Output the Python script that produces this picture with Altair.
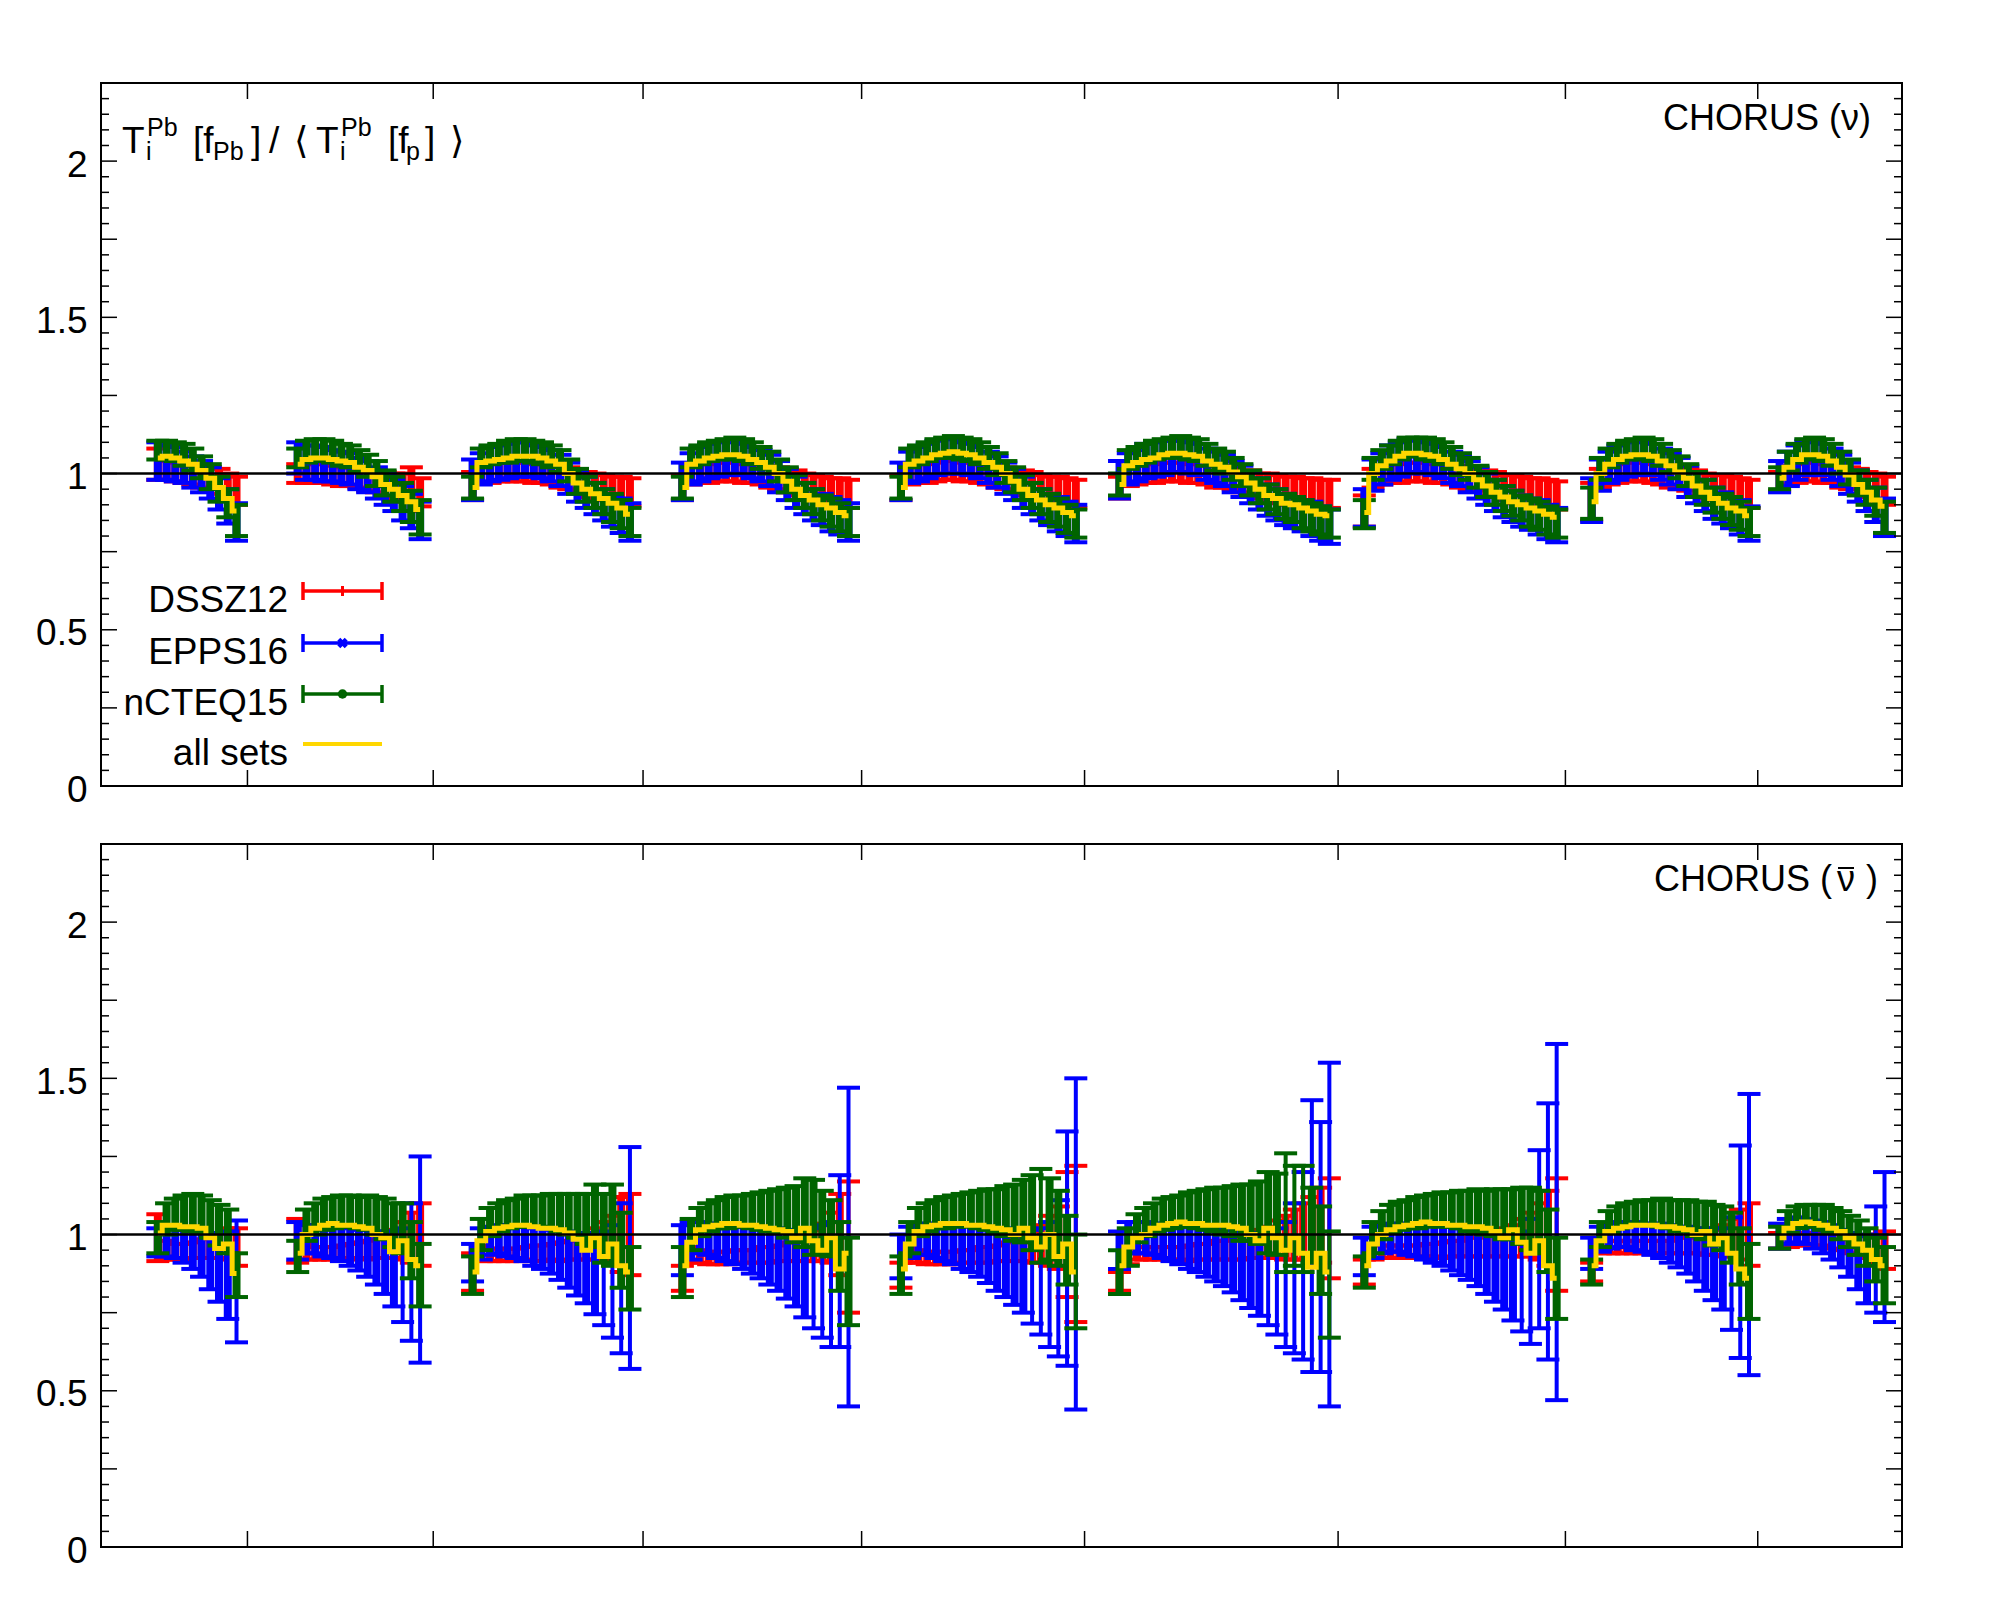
import altair as alt
import pandas as pd

W, H = 1801, 703
FONT = "Liberation Sans"

# ---------------- layout of the point index axis ----------------
GROUP_START = [13, 45, 85, 133, 183, 233, 289, 341, 384]   # first point of each bin group
STEP = 2
X_TICKS = [33.5, 76, 124, 174, 225, 283, 335, 379]
Y_LABELS = [0, 0.5, 1, 1.5, 2]
Y_MAJOR = [0, 0.25, 0.5, 0.75, 1, 1.25, 1.5, 1.75, 2, 2.25]
Y_MINOR = [round(0.05 * k, 2) for k in range(46) if k % 5]

COLORS = {"DSSZ12": "#ff0000", "EPPS16": "#0000ff", "nCTEQ15": "#006400"}
YELLOW = "#ffd700"

# ================= CHORUS (nu) =================
NU_ALL = [
    [1.05, 1.055, 1.05, 1.04, 1.03, 1.01, 0.985, 0.955, 0.92, 0.88],
    [1.03, 1.045, 1.05, 1.05, 1.045, 1.04, 1.035, 1.02, 1.01, 0.99, 0.965, 0.95, 0.93, 0.91, 0.885],
    [0.955, 1.035, 1.04, 1.045, 1.05, 1.055, 1.055, 1.055, 1.05, 1.04, 1.03, 1.0, 0.97, 0.95, 0.935, 0.92, 0.905, 0.89, 0.87],
    [0.955, 1.03, 1.04, 1.05, 1.055, 1.06, 1.06, 1.055, 1.045, 1.035, 1.02, 1.0, 0.975, 0.95, 0.93, 0.915, 0.9, 0.89, 0.875, 0.865],
    [0.955, 1.03, 1.04, 1.05, 1.06, 1.065, 1.07, 1.065, 1.06, 1.05, 1.035, 1.02, 1.0, 0.975, 0.95, 0.93, 0.915, 0.9, 0.89, 0.875, 0.865],
    [0.965, 1.025, 1.035, 1.045, 1.05, 1.06, 1.065, 1.065, 1.06, 1.055, 1.04, 1.03, 1.02, 1.005, 0.99, 0.97, 0.95, 0.93, 0.92, 0.905, 0.9, 0.89, 0.88, 0.87, 0.865],
    [0.875, 1.0, 1.025, 1.04, 1.055, 1.065, 1.065, 1.06, 1.055, 1.045, 1.03, 1.015, 1.0, 0.98, 0.96, 0.94, 0.925, 0.91, 0.9, 0.89, 0.88, 0.87, 0.86],
    [0.91, 1.0, 1.03, 1.045, 1.055, 1.06, 1.06, 1.055, 1.04, 1.025, 1.005, 0.985, 0.96, 0.94, 0.92, 0.905, 0.89, 0.88, 0.865],
    [0.985, 1.02, 1.045, 1.06, 1.06, 1.055, 1.04, 1.02, 0.995, 0.965, 0.94, 0.915, 0.895],
]
NU_NCTEQ = [
    [1.075, 1.075, 1.07, 1.06, 1.045, 1.02, 0.99, 0.95, 0.905, 0.85],
    [1.05, 1.07, 1.075, 1.075, 1.07, 1.06, 1.055, 1.04, 1.025, 1.0, 0.97, 0.95, 0.925, 0.895, 0.86],
    [0.955, 1.05, 1.06, 1.065, 1.07, 1.075, 1.075, 1.07, 1.065, 1.055, 1.04, 1.01, 0.975, 0.95, 0.93, 0.91, 0.89, 0.87, 0.845],
    [0.955, 1.05, 1.06, 1.07, 1.075, 1.08, 1.08, 1.075, 1.065, 1.05, 1.035, 1.01, 0.98, 0.955, 0.93, 0.91, 0.89, 0.875, 0.86, 0.845],
    [0.955, 1.05, 1.06, 1.07, 1.08, 1.085, 1.085, 1.08, 1.075, 1.065, 1.05, 1.03, 1.005, 0.98, 0.955, 0.93, 0.91, 0.89, 0.875, 0.855, 0.84],
    [0.965, 1.045, 1.055, 1.065, 1.075, 1.08, 1.085, 1.085, 1.08, 1.075, 1.06, 1.045, 1.035, 1.015, 0.995, 0.97, 0.945, 0.925, 0.91, 0.895, 0.885, 0.87, 0.86, 0.85, 0.84],
    [0.87, 1.015, 1.045, 1.06, 1.075, 1.085, 1.085, 1.08, 1.075, 1.065, 1.05, 1.03, 1.015, 0.99, 0.965, 0.94, 0.92, 0.905, 0.89, 0.875, 0.865, 0.85, 0.84],
    [0.905, 1.015, 1.05, 1.065, 1.075, 1.08, 1.08, 1.075, 1.06, 1.04, 1.02, 0.995, 0.965, 0.94, 0.915, 0.895, 0.88, 0.865, 0.845],
    [0.985, 1.04, 1.065, 1.08, 1.08, 1.075, 1.06, 1.035, 1.005, 0.97, 0.94, 0.91, 0.86],
]
NU_NCTEQ_ERR = [
    [0.03, 0.03, 0.03, 0.035, 0.035, 0.035, 0.04, 0.04, 0.045, 0.05],
    [0.03, 0.035, 0.035, 0.035, 0.035, 0.035, 0.035, 0.035, 0.035, 0.04, 0.04, 0.04, 0.045, 0.05, 0.055],
    [0.035, 0.03, 0.03, 0.03, 0.035, 0.035, 0.035, 0.035, 0.035, 0.035, 0.035, 0.035, 0.04, 0.04, 0.04, 0.04, 0.045, 0.045, 0.045],
    [0.035, 0.03, 0.03, 0.03, 0.03, 0.03, 0.035, 0.035, 0.035, 0.035, 0.035, 0.035, 0.04, 0.04, 0.04, 0.04, 0.04, 0.045, 0.045, 0.045],
    [0.035, 0.03, 0.03, 0.03, 0.03, 0.03, 0.035, 0.035, 0.035, 0.035, 0.035, 0.035, 0.035, 0.04, 0.04, 0.04, 0.04, 0.045, 0.045, 0.045, 0.045],
    [0.035, 0.03, 0.03, 0.03, 0.03, 0.03, 0.03, 0.035, 0.035, 0.035, 0.035, 0.035, 0.035, 0.035, 0.035, 0.04, 0.04, 0.04, 0.04, 0.04, 0.04, 0.045, 0.045, 0.045, 0.045],
    [0.045, 0.035, 0.03, 0.03, 0.03, 0.03, 0.03, 0.035, 0.035, 0.035, 0.035, 0.035, 0.035, 0.035, 0.04, 0.04, 0.04, 0.04, 0.04, 0.045, 0.045, 0.045, 0.045],
    [0.05, 0.035, 0.03, 0.03, 0.03, 0.03, 0.035, 0.035, 0.035, 0.035, 0.035, 0.035, 0.04, 0.04, 0.04, 0.04, 0.045, 0.045, 0.045],
    [0.035, 0.03, 0.03, 0.03, 0.035, 0.035, 0.035, 0.035, 0.04, 0.04, 0.04, 0.045, 0.05],
]
NU_EPPS = [
    [1.04, 1.035, 1.03, 1.02, 1.005, 0.99, 0.97, 0.935, 0.895, 0.845],
    [1.05, 1.035, 1.035, 1.03, 1.025, 1.02, 1.015, 1.0, 0.99, 0.97, 0.95, 0.93, 0.905, 0.88, 0.85],
    [0.98, 1.015, 1.03, 1.035, 1.04, 1.045, 1.045, 1.04, 1.035, 1.025, 1.01, 0.985, 0.96, 0.94, 0.92, 0.9, 0.88, 0.865, 0.845],
    [0.975, 1.015, 1.03, 1.04, 1.045, 1.05, 1.05, 1.045, 1.035, 1.025, 1.01, 0.99, 0.965, 0.94, 0.92, 0.9, 0.885, 0.87, 0.86, 0.845],
    [0.975, 1.02, 1.03, 1.04, 1.05, 1.055, 1.055, 1.05, 1.045, 1.035, 1.02, 1.005, 0.985, 0.965, 0.94, 0.92, 0.9, 0.885, 0.87, 0.855, 0.84],
    [0.98, 1.015, 1.025, 1.04, 1.045, 1.05, 1.055, 1.055, 1.05, 1.045, 1.03, 1.02, 1.01, 0.99, 0.975, 0.955, 0.935, 0.915, 0.9, 0.885, 0.875, 0.865, 0.855, 0.84, 0.83],
    [0.89, 0.995, 1.015, 1.035, 1.045, 1.055, 1.055, 1.05, 1.045, 1.035, 1.02, 1.01, 0.99, 0.97, 0.95, 0.93, 0.91, 0.895, 0.88, 0.87, 0.86, 0.845, 0.835],
    [0.915, 0.995, 1.02, 1.035, 1.045, 1.05, 1.05, 1.045, 1.03, 1.015, 1.0, 0.975, 0.955, 0.93, 0.905, 0.89, 0.875, 0.86, 0.84],
    [0.99, 1.015, 1.035, 1.05, 1.05, 1.045, 1.03, 1.01, 0.985, 0.96, 0.93, 0.9, 0.86],
]
NU_EPPS_ERR = [
    [0.06, 0.055, 0.055, 0.05, 0.05, 0.05, 0.05, 0.05, 0.055, 0.06],
    [0.05, 0.055, 0.055, 0.055, 0.05, 0.05, 0.05, 0.05, 0.05, 0.05, 0.05, 0.05, 0.055, 0.055, 0.06],
    [0.065, 0.05, 0.055, 0.055, 0.055, 0.055, 0.055, 0.05, 0.05, 0.05, 0.05, 0.05, 0.05, 0.05, 0.05, 0.05, 0.05, 0.055, 0.06],
    [0.06, 0.05, 0.055, 0.055, 0.055, 0.055, 0.05, 0.05, 0.05, 0.05, 0.05, 0.05, 0.05, 0.05, 0.05, 0.05, 0.05, 0.055, 0.055, 0.06],
    [0.06, 0.05, 0.055, 0.055, 0.055, 0.055, 0.055, 0.05, 0.05, 0.05, 0.05, 0.05, 0.05, 0.05, 0.05, 0.05, 0.05, 0.05, 0.055, 0.055, 0.06],
    [0.06, 0.05, 0.05, 0.055, 0.055, 0.055, 0.05, 0.05, 0.05, 0.05, 0.05, 0.05, 0.05, 0.05, 0.05, 0.05, 0.05, 0.05, 0.05, 0.05, 0.05, 0.05, 0.055, 0.055, 0.055],
    [0.06, 0.05, 0.05, 0.055, 0.055, 0.055, 0.05, 0.05, 0.05, 0.05, 0.05, 0.05, 0.05, 0.05, 0.05, 0.05, 0.05, 0.05, 0.05, 0.05, 0.055, 0.055, 0.055],
    [0.07, 0.05, 0.05, 0.055, 0.055, 0.055, 0.05, 0.05, 0.05, 0.05, 0.05, 0.05, 0.05, 0.05, 0.05, 0.05, 0.05, 0.055, 0.055],
    [0.05, 0.055, 0.055, 0.055, 0.05, 0.05, 0.05, 0.05, 0.05, 0.05, 0.05, 0.055, 0.06],
]
NU_DSSZ = [
    [1.03, 1.01, 1.005, 1.0, 0.995, 0.99, 0.985, 0.975, 0.96, 0.945],
    [1.0, 1.0, 1.0, 1.0, 0.995, 0.99, 0.99, 0.985, 0.98, 0.975, 0.965, 0.96, 0.955, 0.95, 0.94],
    [0.96, 1.0, 1.0, 1.005, 1.005, 1.005, 1.005, 1.0, 1.0, 0.995, 0.99, 0.985, 0.975, 0.965, 0.96, 0.955, 0.95, 0.945, 0.94],
    [0.955, 0.995, 1.0, 1.0, 1.005, 1.005, 1.005, 1.0, 1.0, 0.995, 0.99, 0.985, 0.975, 0.97, 0.96, 0.955, 0.95, 0.945, 0.94, 0.935],
    [0.955, 0.995, 1.0, 1.0, 1.005, 1.01, 1.01, 1.005, 1.005, 1.0, 0.995, 0.99, 0.985, 0.98, 0.97, 0.965, 0.955, 0.95, 0.945, 0.94, 0.935],
    [0.955, 0.99, 0.995, 1.0, 1.0, 1.005, 1.005, 1.005, 1.0, 1.0, 0.995, 0.99, 0.99, 0.985, 0.975, 0.97, 0.96, 0.955, 0.95, 0.945, 0.945, 0.94, 0.94, 0.935, 0.935],
    [0.88, 0.985, 0.995, 1.0, 1.0, 1.005, 1.005, 1.005, 1.0, 1.0, 0.995, 0.99, 0.985, 0.98, 0.97, 0.965, 0.955, 0.95, 0.945, 0.94, 0.94, 0.935, 0.93],
    [0.91, 0.985, 0.995, 1.0, 1.005, 1.005, 1.005, 1.0, 0.995, 0.99, 0.985, 0.98, 0.97, 0.96, 0.955, 0.95, 0.945, 0.94, 0.935],
    [0.975, 0.995, 1.0, 1.005, 1.005, 1.0, 1.0, 0.99, 0.985, 0.975, 0.965, 0.955, 0.945],
]
NU_DSSZ_ERR = [
    [0.05, 0.03, 0.03, 0.03, 0.03, 0.035, 0.035, 0.04, 0.04, 0.045],
    [0.03, 0.03, 0.03, 0.03, 0.03, 0.03, 0.03, 0.03, 0.035, 0.035, 0.04, 0.04, 0.045, 0.07, 0.045],
    [0.045, 0.03, 0.03, 0.03, 0.03, 0.03, 0.03, 0.03, 0.03, 0.03, 0.035, 0.035, 0.035, 0.04, 0.04, 0.04, 0.04, 0.045, 0.045],
    [0.04, 0.03, 0.03, 0.03, 0.03, 0.03, 0.03, 0.03, 0.03, 0.03, 0.035, 0.035, 0.035, 0.04, 0.04, 0.04, 0.04, 0.04, 0.045, 0.045],
    [0.04, 0.03, 0.03, 0.03, 0.03, 0.03, 0.03, 0.03, 0.03, 0.03, 0.03, 0.035, 0.035, 0.035, 0.04, 0.04, 0.04, 0.04, 0.045, 0.045, 0.045],
    [0.035, 0.03, 0.03, 0.03, 0.03, 0.03, 0.03, 0.03, 0.03, 0.03, 0.03, 0.035, 0.035, 0.035, 0.035, 0.04, 0.04, 0.045, 0.045, 0.045, 0.045, 0.045, 0.045, 0.045, 0.045],
    [0.05, 0.03, 0.03, 0.03, 0.03, 0.03, 0.03, 0.03, 0.03, 0.03, 0.03, 0.035, 0.035, 0.035, 0.04, 0.04, 0.04, 0.045, 0.045, 0.045, 0.045, 0.045, 0.045],
    [0.06, 0.03, 0.03, 0.03, 0.03, 0.03, 0.03, 0.03, 0.03, 0.035, 0.035, 0.035, 0.04, 0.04, 0.04, 0.045, 0.045, 0.045, 0.045],
    [0.03, 0.03, 0.03, 0.03, 0.03, 0.03, 0.03, 0.035, 0.035, 0.04, 0.04, 0.045, 0.045],
]

# ================= CHORUS (nubar) =================
NB_ALL = [
    [1.005, 1.03, 1.03, 1.025, 1.025, 1.02, 0.99, 0.955, 0.97, 0.875],
    [0.94, 1.0, 1.02, 1.03, 1.035, 1.03, 1.03, 1.025, 1.02, 1.0, 0.99, 0.945, 0.98, 0.92, 0.9],
    [0.88, 0.98, 1.01, 1.02, 1.025, 1.03, 1.03, 1.025, 1.02, 1.02, 1.015, 1.005, 0.985, 0.95, 0.99, 0.93, 0.97, 0.9, 0.88],
    [0.9, 0.975, 1.015, 1.025, 1.03, 1.035, 1.035, 1.03, 1.03, 1.025, 1.02, 1.015, 1.01, 0.99, 1.02, 0.98, 0.95, 0.99, 0.89, 0.94],
    [0.89, 0.97, 1.01, 1.025, 1.03, 1.035, 1.035, 1.035, 1.03, 1.03, 1.025, 1.02, 1.015, 1.0, 1.02, 0.99, 0.96, 1.0, 0.93, 0.97, 0.88],
    [0.9, 0.96, 0.99, 1.0, 1.02, 1.03, 1.035, 1.04, 1.035, 1.035, 1.03, 1.03, 1.03, 1.025, 1.02, 1.0, 0.98, 1.02, 0.99, 0.95, 0.99, 0.94, 0.895, 0.94, 0.88],
    [0.9, 0.97, 1.0, 1.015, 1.025, 1.03, 1.035, 1.04, 1.035, 1.035, 1.03, 1.03, 1.025, 1.025, 1.02, 1.01, 0.99, 1.015, 0.975, 0.94, 0.98, 0.9, 0.86],
    [0.9, 0.98, 1.01, 1.02, 1.025, 1.03, 1.03, 1.03, 1.025, 1.025, 1.02, 1.015, 1.0, 1.01, 0.97, 0.99, 0.94, 0.89, 0.86],
    [0.99, 1.02, 1.035, 1.04, 1.035, 1.03, 1.02, 1.01, 0.99, 0.97, 0.95, 0.92, 0.9],
]
NB_NCTEQ = [
    [0.99, 1.05, 1.065, 1.07, 1.07, 1.065, 1.05, 1.03, 1.01, 0.87],
    [0.93, 1.03, 1.05, 1.065, 1.07, 1.075, 1.075, 1.07, 1.07, 1.06, 1.05, 1.03, 1.02, 0.95, 0.87],
    [0.87, 1.0, 1.04, 1.055, 1.065, 1.07, 1.075, 1.075, 1.075, 1.075, 1.07, 1.065, 1.06, 1.05, 1.06, 1.02, 1.03, 0.95, 0.86],
    [0.88, 1.0, 1.04, 1.055, 1.065, 1.07, 1.075, 1.075, 1.075, 1.075, 1.075, 1.075, 1.07, 1.065, 1.07, 1.055, 1.04, 1.02, 0.93, 0.85],
    [0.87, 0.99, 1.04, 1.055, 1.065, 1.07, 1.075, 1.08, 1.08, 1.08, 1.08, 1.075, 1.075, 1.07, 1.075, 1.07, 1.06, 1.05, 1.02, 0.95, 0.85],
    [0.88, 0.96, 1.02, 1.04, 1.055, 1.065, 1.07, 1.075, 1.08, 1.08, 1.08, 1.08, 1.075, 1.075, 1.07, 1.07, 1.07, 1.07, 1.065, 1.07, 1.06, 1.05, 1.03, 0.95, 0.84],
    [0.88, 0.99, 1.03, 1.05, 1.06, 1.065, 1.07, 1.075, 1.08, 1.08, 1.08, 1.08, 1.075, 1.075, 1.07, 1.07, 1.065, 1.065, 1.06, 1.05, 1.04, 0.98, 0.86],
    [0.88, 1.0, 1.04, 1.055, 1.065, 1.07, 1.07, 1.07, 1.07, 1.065, 1.06, 1.06, 1.05, 1.045, 1.03, 1.02, 0.99, 0.93, 0.85],
    [0.99, 1.04, 1.055, 1.06, 1.06, 1.055, 1.045, 1.03, 1.01, 0.99, 0.96, 0.92, 0.87],
]
NB_NCTEQ_ERR = [
    [0.05, 0.05, 0.05, 0.055, 0.06, 0.06, 0.06, 0.065, 0.07, 0.07],
    [0.05, 0.05, 0.05, 0.05, 0.05, 0.05, 0.05, 0.05, 0.055, 0.06, 0.065, 0.07, 0.08, 0.09, 0.1],
    [0.06, 0.05, 0.045, 0.045, 0.045, 0.045, 0.05, 0.05, 0.05, 0.055, 0.06, 0.065, 0.07, 0.08, 0.1, 0.11, 0.13, 0.12, 0.1],
    [0.08, 0.05, 0.045, 0.045, 0.045, 0.05, 0.05, 0.05, 0.055, 0.06, 0.065, 0.07, 0.08, 0.09, 0.11, 0.12, 0.1, 0.09, 0.11, 0.14],
    [0.06, 0.05, 0.045, 0.045, 0.045, 0.05, 0.05, 0.05, 0.055, 0.06, 0.065, 0.07, 0.08, 0.09, 0.1, 0.12, 0.15, 0.13, 0.12, 0.11, 0.15],
    [0.07, 0.06, 0.045, 0.045, 0.045, 0.05, 0.05, 0.05, 0.055, 0.06, 0.065, 0.07, 0.075, 0.08, 0.09, 0.09, 0.1, 0.13, 0.13, 0.19, 0.16, 0.17, 0.12, 0.14, 0.17],
    [0.05, 0.05, 0.045, 0.045, 0.045, 0.045, 0.05, 0.05, 0.05, 0.055, 0.055, 0.06, 0.065, 0.07, 0.07, 0.075, 0.08, 0.08, 0.09, 0.1, 0.1, 0.1, 0.13],
    [0.04, 0.04, 0.035, 0.035, 0.035, 0.035, 0.04, 0.04, 0.045, 0.045, 0.05, 0.05, 0.055, 0.06, 0.065, 0.07, 0.08, 0.09, 0.12],
    [0.035, 0.035, 0.035, 0.035, 0.035, 0.04, 0.04, 0.045, 0.05, 0.055, 0.06, 0.07, 0.09],
]
NB_EPPS = [
    [0.975, 0.98, 0.975, 0.965, 0.95, 0.935, 0.915, 0.895, 0.87, 0.85],
    [0.98, 0.985, 0.985, 0.98, 0.975, 0.97, 0.96, 0.95, 0.94, 0.925, 0.91, 0.89, 0.87, 0.88, 0.92],
    [0.91, 0.97, 0.98, 0.985, 0.98, 0.975, 0.97, 0.96, 0.955, 0.945, 0.935, 0.92, 0.905, 0.89, 0.875, 0.86, 0.85, 0.86, 0.925],
    [0.95, 0.98, 0.99, 0.985, 0.98, 0.975, 0.97, 0.96, 0.95, 0.94, 0.93, 0.92, 0.905, 0.89, 0.875, 0.86, 0.85, 0.84, 0.915, 0.96],
    [0.93, 0.975, 0.985, 0.985, 0.98, 0.975, 0.97, 0.96, 0.955, 0.945, 0.935, 0.92, 0.91, 0.895, 0.88, 0.865, 0.85, 0.84, 0.86, 0.955, 0.97],
    [0.95, 0.99, 0.99, 0.99, 0.985, 0.98, 0.975, 0.97, 0.96, 0.955, 0.945, 0.935, 0.925, 0.915, 0.9, 0.885, 0.87, 0.86, 0.85, 0.84, 0.86, 0.9, 0.995, 0.96, 1.0],
    [0.93, 0.975, 0.985, 0.99, 0.99, 0.985, 0.98, 0.975, 0.97, 0.965, 0.955, 0.945, 0.935, 0.925, 0.91, 0.895, 0.88, 0.865, 0.85, 0.85, 0.985, 1.01, 1.04],
    [0.94, 0.985, 0.995, 1.0, 1.0, 0.995, 0.99, 0.985, 0.98, 0.97, 0.96, 0.95, 0.935, 0.92, 0.905, 0.89, 0.875, 0.945, 1.0],
    [0.995, 1.01, 1.015, 1.01, 1.0, 0.99, 0.975, 0.955, 0.935, 0.91, 0.89, 0.92, 0.96],
]
NB_EPPS_ERR = [
    [0.045, 0.05, 0.05, 0.055, 0.06, 0.07, 0.09, 0.11, 0.14, 0.195],
    [0.06, 0.045, 0.045, 0.05, 0.05, 0.055, 0.06, 0.065, 0.075, 0.085, 0.1, 0.12, 0.15, 0.22, 0.33],
    [0.06, 0.05, 0.045, 0.045, 0.05, 0.05, 0.055, 0.06, 0.065, 0.07, 0.08, 0.09, 0.1, 0.11, 0.13, 0.15, 0.18, 0.24, 0.355],
    [0.08, 0.06, 0.05, 0.05, 0.055, 0.06, 0.065, 0.07, 0.075, 0.08, 0.09, 0.1, 0.11, 0.12, 0.14, 0.16, 0.18, 0.2, 0.275, 0.51],
    [0.07, 0.05, 0.05, 0.05, 0.055, 0.06, 0.065, 0.07, 0.075, 0.08, 0.09, 0.1, 0.11, 0.12, 0.13, 0.15, 0.17, 0.2, 0.25, 0.375, 0.53],
    [0.06, 0.05, 0.05, 0.05, 0.05, 0.055, 0.06, 0.065, 0.07, 0.075, 0.08, 0.085, 0.09, 0.1, 0.11, 0.12, 0.13, 0.15, 0.17, 0.2, 0.24, 0.3, 0.435, 0.4, 0.55],
    [0.06, 0.05, 0.045, 0.045, 0.045, 0.05, 0.05, 0.055, 0.06, 0.065, 0.07, 0.075, 0.08, 0.09, 0.1, 0.11, 0.12, 0.14, 0.16, 0.2, 0.285, 0.41, 0.57],
    [0.05, 0.04, 0.04, 0.04, 0.04, 0.045, 0.045, 0.05, 0.055, 0.06, 0.065, 0.075, 0.085, 0.1, 0.115, 0.13, 0.18, 0.34, 0.45],
    [0.04, 0.04, 0.04, 0.04, 0.045, 0.05, 0.055, 0.06, 0.07, 0.085, 0.11, 0.17, 0.24],
]
NB_DSSZ = [
    [0.99, 0.95, 0.945, 0.945, 0.95, 0.955, 0.96, 0.965, 0.97, 0.96],
    [0.98, 0.945, 0.94, 0.94, 0.94, 0.945, 0.945, 0.95, 0.95, 0.955, 0.96, 0.97, 0.98, 0.99, 1.0],
    [0.88, 0.94, 0.935, 0.935, 0.935, 0.935, 0.94, 0.94, 0.94, 0.945, 0.945, 0.95, 0.955, 0.96, 0.97, 0.98, 0.99, 1.0, 1.0],
    [0.86, 0.935, 0.93, 0.925, 0.925, 0.925, 0.93, 0.93, 0.93, 0.935, 0.935, 0.94, 0.945, 0.95, 0.955, 0.965, 0.975, 0.99, 1.0, 0.96],
    [0.87, 0.935, 0.93, 0.925, 0.925, 0.925, 0.925, 0.93, 0.93, 0.935, 0.935, 0.94, 0.945, 0.95, 0.955, 0.96, 0.97, 0.98, 0.99, 1.0, 0.97],
    [0.85, 0.93, 0.94, 0.94, 0.94, 0.94, 0.94, 0.94, 0.94, 0.945, 0.945, 0.95, 0.95, 0.955, 0.96, 0.965, 0.97, 0.975, 0.985, 0.99, 1.0, 1.01, 1.02, 1.03, 1.02],
    [0.88, 0.945, 0.945, 0.945, 0.945, 0.945, 0.945, 0.95, 0.95, 0.95, 0.955, 0.955, 0.96, 0.96, 0.965, 0.97, 0.975, 0.98, 0.99, 1.0, 1.01, 1.02, 1.0],
    [0.88, 0.96, 0.96, 0.96, 0.96, 0.96, 0.96, 0.96, 0.96, 0.96, 0.965, 0.965, 0.97, 0.97, 0.975, 0.98, 0.99, 1.0, 1.0],
    [0.98, 0.98, 0.985, 0.985, 0.985, 0.985, 0.98, 0.975, 0.97, 0.965, 0.96, 0.955, 0.95],
]
NB_DSSZ_ERR = [
    [0.075, 0.03, 0.025, 0.025, 0.025, 0.03, 0.035, 0.04, 0.05, 0.06],
    [0.07, 0.025, 0.02, 0.02, 0.02, 0.02, 0.025, 0.025, 0.03, 0.03, 0.035, 0.045, 0.06, 0.08, 0.1],
    [0.06, 0.025, 0.02, 0.02, 0.02, 0.02, 0.02, 0.025, 0.025, 0.025, 0.03, 0.03, 0.035, 0.04, 0.05, 0.06, 0.07, 0.12, 0.13],
    [0.04, 0.025, 0.02, 0.02, 0.02, 0.02, 0.02, 0.02, 0.02, 0.025, 0.025, 0.025, 0.03, 0.035, 0.04, 0.05, 0.06, 0.08, 0.13, 0.21],
    [0.04, 0.025, 0.02, 0.02, 0.02, 0.02, 0.02, 0.02, 0.02, 0.025, 0.025, 0.025, 0.03, 0.035, 0.04, 0.05, 0.06, 0.08, 0.1, 0.2, 0.25],
    [0.03, 0.025, 0.02, 0.02, 0.02, 0.02, 0.02, 0.02, 0.025, 0.025, 0.025, 0.03, 0.03, 0.035, 0.04, 0.04, 0.045, 0.05, 0.06, 0.07, 0.08, 0.09, 0.1, 0.12, 0.16],
    [0.04, 0.025, 0.02, 0.02, 0.02, 0.02, 0.02, 0.02, 0.02, 0.025, 0.025, 0.025, 0.03, 0.03, 0.035, 0.04, 0.045, 0.05, 0.06, 0.07, 0.09, 0.12, 0.18],
    [0.03, 0.02, 0.02, 0.02, 0.02, 0.02, 0.02, 0.02, 0.02, 0.02, 0.025, 0.025, 0.03, 0.035, 0.04, 0.05, 0.06, 0.08, 0.1],
    [0.025, 0.02, 0.02, 0.02, 0.02, 0.02, 0.025, 0.025, 0.03, 0.03, 0.035, 0.045, 0.06],
]

# ---------------- scales / encodings ----------------
XS = alt.Scale(domain=[0, 412], nice=False, zero=False)
YS = alt.Scale(domain=[0, 2.25], nice=False, zero=False)
YAX = alt.Axis(values=Y_LABELS, format="~g", ticks=False, domain=False, grid=False,
               title=None, labelFontSize=37, labelFont=FONT, labelColor="black",
               labelPadding=14, minExtent=84, maxExtent=84, labelOffset=4)
XENC = alt.X("x:Q", scale=XS, axis=None)

THICK, THIN, WIDE_ERR = 8, 4, 0.14   # dense bars look solid, the long isolated ones stay thin


def ybind(field):
    return alt.Y(field, scale=YS, axis=YAX)


def errframe(centers, errs):
    rows = []
    for g, (cs, es) in enumerate(zip(centers, errs)):
        for i, (c, e) in enumerate(zip(cs, es)):
            rows.append({"x": GROUP_START[g] + STEP * i, "g": g, "lo": c - e, "hi": c + e,
                         "sw": THICK if e <= WIDE_ERR else THIN})
    return pd.DataFrame(rows)


def lineframe(values):
    rows = []
    for g, vs in enumerate(values):
        for i, v in enumerate(vs):
            rows.append({"x": GROUP_START[g] + STEP * i, "g": g, "v": v})
    return pd.DataFrame(rows)


def errbars(df, color):
    base = alt.Chart(df)
    return [
        base.mark_rule(color=color).encode(
            x=XENC, y=ybind("lo:Q"), y2="hi:Q",
            strokeWidth=alt.StrokeWidth("sw:Q", scale=None, legend=None)),
        base.mark_tick(color=color, orient="horizontal", size=23, thickness=4, opacity=1)
            .encode(x=XENC, y=ybind("lo:Q")),
        base.mark_tick(color=color, orient="horizontal", size=23, thickness=4, opacity=1)
            .encode(x=XENC, y=ybind("hi:Q")),
    ]


ONE = pd.DataFrame({"a": [0]})


def txt(s, x, y, size, align="left"):
    return alt.Chart(ONE).mark_text(text=s, fontSize=size, font=FONT, color="black",
                                    align=align, baseline="alphabetic").encode(
        x=alt.value(x), y=alt.value(y))


def frame_ticks():
    dmaj = pd.DataFrame({"v": Y_MAJOR})
    dmin = pd.DataFrame({"v": Y_MINOR})
    dx = pd.DataFrame({"x": X_TICKS})
    out = []
    for d, L in ((dmaj, 16), (dmin, 8)):
        out.append(alt.Chart(d).mark_rule(color="black", strokeWidth=1.5).encode(
            y=ybind("v:Q"), x=alt.value(0), x2=alt.value(L)))
        out.append(alt.Chart(d).mark_rule(color="black", strokeWidth=1.5).encode(
            y=ybind("v:Q"), x=alt.value(W - L), x2=alt.value(W)))
    out.append(alt.Chart(dx).mark_rule(color="black", strokeWidth=1.5).encode(
        x=XENC, y=alt.value(0), y2=alt.value(16)))
    out.append(alt.Chart(dx).mark_rule(color="black", strokeWidth=1.5).encode(
        x=XENC, y=alt.value(H - 16), y2=alt.value(H)))
    return out


def panel(all_v, dssz, dssz_e, epps, epps_e, ncteq, ncteq_e, top_panel):
    layers = []
    layers += errbars(errframe(dssz, dssz_e), COLORS["DSSZ12"])
    layers += errbars(errframe(epps, epps_e), COLORS["EPPS16"])
    layers += errbars(errframe(ncteq, ncteq_e), COLORS["nCTEQ15"])
    layers.append(alt.Chart(lineframe(all_v)).mark_line(
        color=YELLOW, strokeWidth=5, interpolate="step").encode(
        x=XENC, y=ybind("v:Q"), detail="g:N"))
    layers.append(alt.Chart(pd.DataFrame({"v": [1.0]})).mark_rule(
        color="black", strokeWidth=2.5).encode(y=ybind("v:Q")))
    layers += frame_ticks()
    if top_panel:
        layers.append(txt("CHORUS (\u03bd)", W - 31, 47, 36, align="right"))
        # axis-title style label  T_i^Pb [f_Pb] / < T_i^Pb [f_p] >
        for s, x, y, fs in [("T", 21, 70, 37), ("Pb", 46, 53, 25), ("i", 45, 77, 25),
                            ("[f", 92, 70, 37), ("Pb", 112, 77, 25), ("]", 150, 70, 37),
                            ("/", 168, 70, 37), ("\u27e8", 193, 70, 37), ("T", 215, 70, 37),
                            ("Pb", 240, 53, 25), ("i", 239, 77, 25), ("[f", 287, 70, 37),
                            ("p", 305, 77, 25), ("]", 324, 70, 37), ("\u27e9", 349, 70, 37)]:
            layers.append(txt(s, x, y, fs))
        entries = [("DSSZ12", COLORS["DSSZ12"], 508, "plus"),
                   ("EPPS16", COLORS["EPPS16"], 560, "cross"),
                   ("nCTEQ15", COLORS["nCTEQ15"], 611, "circle"),
                   ("all sets", YELLOW, 661, None)]
        for name, col, ly, mk in entries:
            layers.append(txt(name, 187, ly + 21, 37, align="right"))
            sw = 4 if mk is None else 3.5
            layers.append(alt.Chart(ONE).mark_rule(color=col, strokeWidth=sw).encode(
                x=alt.value(202), x2=alt.value(281), y=alt.value(ly)))
            if mk is not None:
                for cx in (202, 281):
                    layers.append(alt.Chart(ONE).mark_rule(color=col, strokeWidth=3.5).encode(
                        x=alt.value(cx), y=alt.value(ly - 9), y2=alt.value(ly + 9)))
                if mk == "plus":
                    layers.append(alt.Chart(ONE).mark_rule(color=col, strokeWidth=3).encode(
                        x=alt.value(241.5), y=alt.value(ly - 5), y2=alt.value(ly + 5)))
                elif mk == "cross":
                    layers.append(alt.Chart(ONE).mark_point(shape="cross", angle=45, filled=True,
                                                            color=col, size=110, opacity=1).encode(
                        x=alt.value(241.5), y=alt.value(ly)))
                else:
                    layers.append(alt.Chart(ONE).mark_circle(color=col, size=90, opacity=1).encode(
                        x=alt.value(241.5), y=alt.value(ly)))
    else:
        # "CHORUS (nu-bar )" with the bar drawn over the nu
        layers.append(txt("CHORUS (", 1731, 47, 36, align="right"))
        layers.append(txt("\u03bd", 1745, 47, 36, align="center"))
        layers.append(txt(")", 1765, 47, 36, align="left"))
        layers.append(alt.Chart(ONE).mark_rule(color="black", strokeWidth=2).encode(
            x=alt.value(1737), x2=alt.value(1753), y=alt.value(24)))
    return alt.layer(*layers).properties(width=W, height=H)


top = panel(NU_ALL, NU_DSSZ, NU_DSSZ_ERR, NU_EPPS, NU_EPPS_ERR, NU_NCTEQ, NU_NCTEQ_ERR, True)
bottom = panel(NB_ALL, NB_DSSZ, NB_DSSZ_ERR, NB_EPPS, NB_EPPS_ERR, NB_NCTEQ, NB_NCTEQ_ERR, False)

chart = alt.vconcat(top, bottom, spacing=33).properties(
    padding={"left": 8, "top": 73, "right": 10, "bottom": 10},
    background="white",
).configure(font=FONT).configure_view(stroke="black", strokeWidth=2)

chart.save("out.html", embed_options={"renderer": "svg", "actions": False})
